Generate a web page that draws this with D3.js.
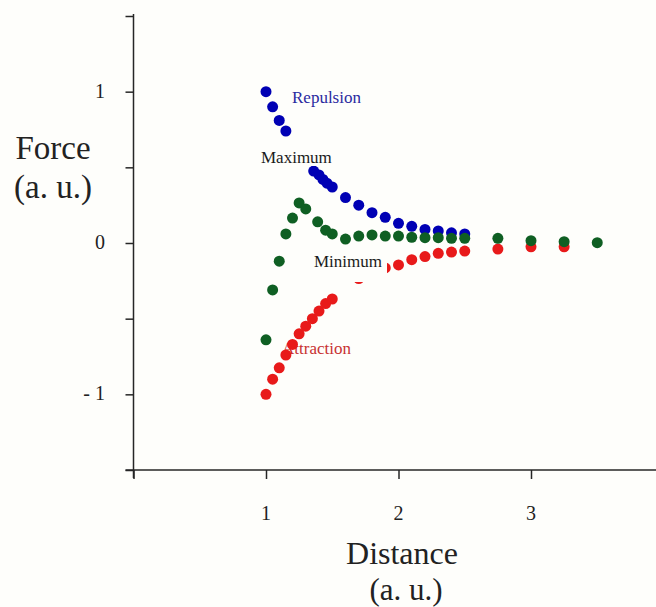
<!DOCTYPE html>
<html><head><meta charset="utf-8">
<script src="https://cdn.jsdelivr.net/npm/d3@7/dist/d3.min.js"></script>
<style>
html,body{margin:0;padding:0;background:#fefefb;}
svg{display:block;}
text{font-family:"Liberation Serif","Times New Roman",serif;}
</style></head>
<body>
<svg id="chart" width="656" height="607"></svg>
<script>
// ---- data ----
const repulsionX = [1.0, 1.05, 1.1, 1.15, 1.36, 1.4, 1.43, 1.46, 1.5, 1.6, 1.7, 1.8, 1.9, 2.0, 2.1, 2.2, 2.3, 2.4, 2.5];
const repulsionY = [1.0, 0.90, 0.81, 0.74, 0.475, 0.45, 0.42, 0.395, 0.37, 0.30, 0.25, 0.20, 0.17, 0.13, 0.11, 0.09, 0.08, 0.067, 0.06];

const attractionX = [1.0, 1.05, 1.1, 1.15, 1.2, 1.25, 1.3, 1.35, 1.4, 1.45, 1.5, 1.7, 1.8, 1.9, 2.0, 2.1, 2.2, 2.3, 2.4, 2.5, 2.75, 3.0, 3.25];
const attractionY = [-1.0, -0.90, -0.825, -0.74, -0.67, -0.60, -0.55, -0.50, -0.45, -0.40, -0.37, -0.235, -0.19, -0.165, -0.145, -0.11, -0.09, -0.068, -0.06, -0.053, -0.04, -0.025, -0.025];

const netX = [1.0, 1.05, 1.1, 1.15, 1.2, 1.25, 1.3, 1.39, 1.45, 1.5, 1.6, 1.7, 1.8, 1.9, 2.0, 2.1, 2.2, 2.3, 2.4, 2.5, 2.75, 3.0, 3.25, 3.5];
const netY = [-0.64, -0.31, -0.12, 0.06, 0.165, 0.265, 0.225, 0.14, 0.085, 0.06, 0.026, 0.046, 0.053, 0.046, 0.046, 0.038, 0.035, 0.035, 0.031, 0.031, 0.031, 0.015, 0.009, 0.002];

const xTicks = [1, 2, 3];
const xTickLabels = ["1", "2", "3"];
const yTicks = [-1.5, -1, -0.5, 0, 0.5, 1, 1.5];
const yLabelTicks = [1, 0, -1];
const yTickLabels = ["1", "0", "- 1"];

// ---- drawing ----
const svg = d3.select("#chart");
svg.append("rect").attr("width", 656).attr("height", 607).attr("fill", "#fefefb");

const x = d3.scaleLinear().domain([0, 4]).range([133.5, 663.5]);
const y = d3.scaleLinear().domain([-1.5, 1.5]).range([470, 16]);

const axisColor = "#262626";

// y axis
const yAxis = svg.append("g").attr("transform", `translate(${x(0)},0)`)
  .call(d3.axisLeft(y).tickValues(yTicks).tickSize(8).tickFormat(""));
yAxis.select(".domain").attr("d", `M0,${y(1.5) - 2}V${y(-1.5) + 8}`);
yAxis.selectAll("path,line").attr("stroke", axisColor).attr("stroke-width", 1.5);

// x axis
const xAxis = svg.append("g").attr("transform", `translate(0,${y(-1.5)})`)
  .call(d3.axisBottom(x).tickValues([0].concat(xTicks)).tickSize(9).tickFormat(""));
xAxis.select(".domain").attr("d", `M${x(0) - 8},0H656`);
xAxis.selectAll("path,line").attr("stroke", axisColor).attr("stroke-width", 1.5);

// tick labels
svg.append("g").selectAll("text").data(xTicks).join("text")
  .attr("x", d => x(d)).attr("y", 520)
  .attr("text-anchor", "middle").attr("font-size", 20).attr("fill", "#222")
  .text((d, i) => xTickLabels[i]);

svg.append("g").selectAll("text").data(yLabelTicks).join("text")
  .attr("x", 105).attr("y", d => y(d) + 6)
  .attr("text-anchor", "end").attr("font-size", 20).attr("fill", "#222")
  .text((d, i) => yTickLabels[i]);

// axis titles
svg.append("text").attr("x", 53).attr("y", 159).attr("text-anchor", "middle")
  .attr("font-size", 33).attr("fill", "#222").text("Force");
svg.append("text").attr("x", 53).attr("y", 198).attr("text-anchor", "middle")
  .attr("font-size", 33).attr("fill", "#222").text("(a. u.)");
svg.append("text").attr("x", 402).attr("y", 564).attr("text-anchor", "middle")
  .attr("font-size", 32).attr("fill", "#222").text("Distance");
svg.append("text").attr("x", 406).attr("y", 600).attr("text-anchor", "middle")
  .attr("font-size", 31).attr("fill", "#222").text("(a. u.)");

// label behind points
svg.append("text").attr("x", 282).attr("y", 354)
  .attr("font-size", 17).attr("fill", "#c83232").text("Attraction");

const r = 5.5;
function series(xs, ys, color) {
  svg.append("g").selectAll("circle").data(xs.map((d, i) => [d, ys[i]])).join("circle")
    .attr("cx", d => x(d[0])).attr("cy", d => y(d[1])).attr("r", r).attr("fill", color);
}
series(repulsionX, repulsionY, "#0000b4");
series(attractionX, attractionY, "#e81a1a");
series(netX, netY, "#0f5f23");

// labels with opaque boxes (in front of points)
function boxLabel(tx, ty, txt, color, bx, by, bw, bh) {
  svg.append("rect").attr("x", bx).attr("y", by).attr("width", bw).attr("height", bh).attr("fill", "#fefefb");
  svg.append("text").attr("x", tx).attr("y", ty).attr("font-size", 17).attr("fill", color).text(txt);
}
boxLabel(292, 103, "Repulsion", "#2a2aa0", 290, 88, 76, 20);
boxLabel(261, 163, "Maximum", "#1a1a1a", 259, 146, 76, 20);
boxLabel(314, 267, "Minimum", "#1a1a1a", 312, 250, 75, 32);
</script>
</body></html>
